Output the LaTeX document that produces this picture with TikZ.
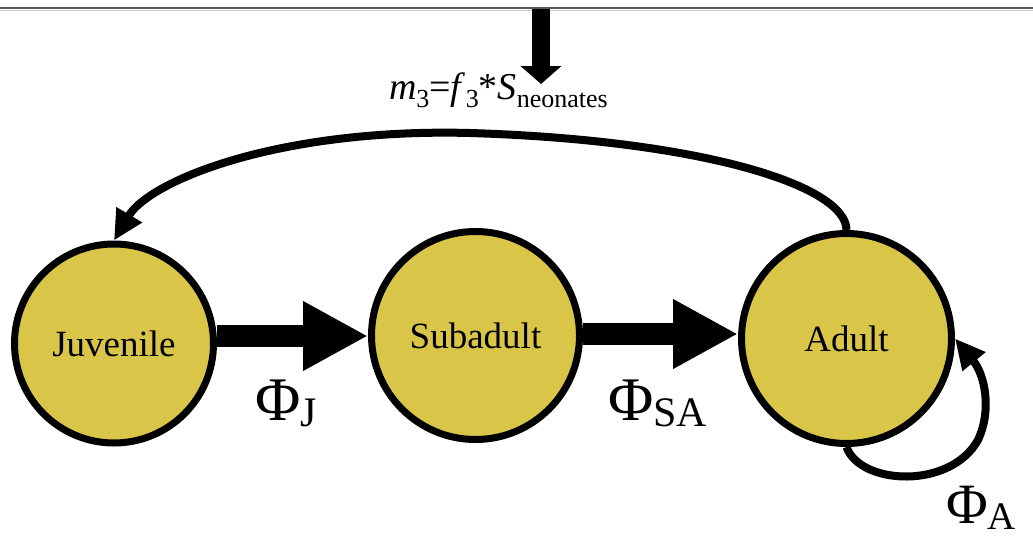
\documentclass[tikz,border=0pt]{standalone}
\usepackage{fontspec}
\setmainfont{Liberation Serif}
\usetikzlibrary{arrows.meta}
\definecolor{stagefill}{RGB}{217,198,72}
% lowered subscripts set in plain text
\newcommand\phisub[1]{\raisebox{-6pt}{\fontsize{42}{42}\selectfont #1}}
\newcommand\phisubsmall[1]{\raisebox{-6pt}{\fontsize{39}{39}\selectfont #1}}
\newcommand\ratesub[1]{\raisebox{-8pt}{\fontsize{26}{26}\selectfont #1}}
\begin{document}
\begin{tikzpicture}[x=1pt,y=-1pt,
  stagenode/.style={circle, draw=black, line width=7pt, fill=stagefill,
    inner sep=0pt, font=\fontsize{37}{40}\selectfont},
  bigarrow/.style={line width=22pt, -{Triangle[length=65pt,width=65pt]}},
  thinarrow/.style={line width=8pt, -{Triangle[length=30pt,width=28pt]}},
  inflow/.style={line width=18pt, -{Triangle[length=18pt,width=40pt]}},
  philabel/.style={inner sep=0pt, font=\fontsize{62}{62}\selectfont},
  ratelabel/.style={inner sep=0pt, font=\fontsize{38}{38}\selectfont}]
\useasboundingbox (0,0) rectangle (1033,536);

% rule along the top edge
\draw[line width=2pt, gray!70!black] (0,8) -- (1033,8);
\draw[line width=1pt, gray!40] (0,10) -- (1033,10);

% life stages
\node[stagenode, minimum size=199pt] (juv) at (114,343.5) {Juvenile};
\node[stagenode, minimum size=208pt] (sub) at (475.5,335.5) {Subadult};
\node[stagenode, minimum size=210pt] (adu) at (846.5,338.5) {Adult};

% survival transitions
\draw[bigarrow] (juv.east |- 0,336) -- (sub.west |- 0,336);
\draw[bigarrow] (sub.east |- 0,334) -- (adu.west |- 0,334);

% fecundity feedback from adults to juveniles
\draw[thinarrow] (adu.north) .. controls (846,185) and (700,140) .. (470,133)
  .. controls (280,128) and (150,180) .. (juv.north);

% adult self-loop
\draw[thinarrow] (adu.south) .. controls (860,485) and (950,490) .. (978,440)
  .. controls (992,410) and (985,375) .. (adu.east);

% neonate input from above
\coordinate (feedtop) at (541,9);
\coordinate (feedend) at (541,84);
\draw[inflow] (feedtop) -- (feedend);

% labels
\node[ratelabel, anchor=base east] (rate) at (608,99)
  {\textit{m}\ratesub{3}=\textit{f}\ratesub{3}*\textit{S}\ratesub{neonates}};
\node[philabel, anchor=base west] (phiJ) at (255,420) {Φ\phisub{J}};
\node[philabel, anchor=base west] (phiSA) at (608,420) {Φ\phisub{SA}};
\node[philabel, anchor=base west, font=\fontsize{57}{57}\selectfont] (phiA) at (946,523) {Φ\phisubsmall{A}};
\end{tikzpicture}
\end{document}
